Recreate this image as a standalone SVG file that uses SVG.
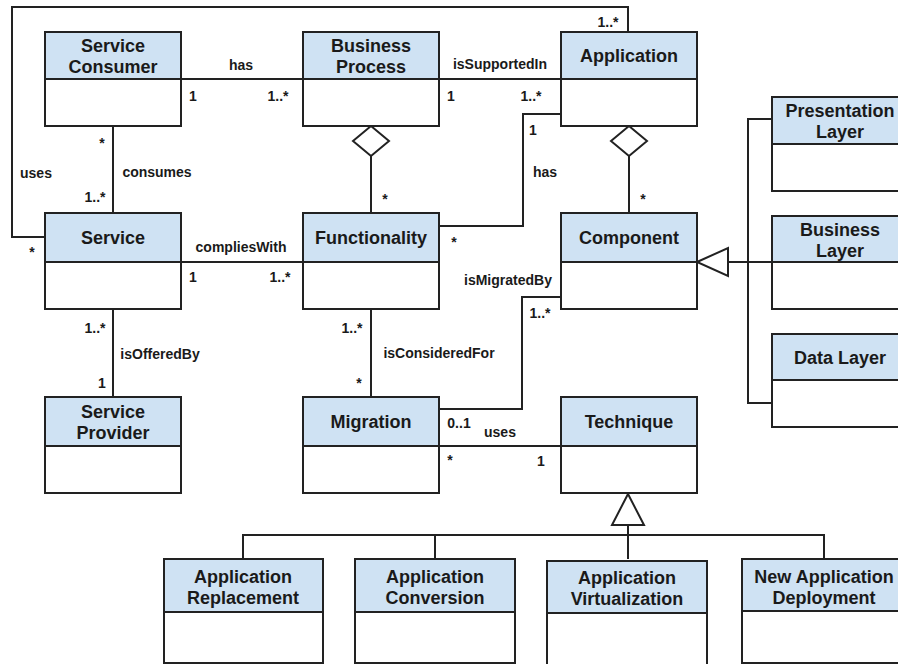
<svg xmlns="http://www.w3.org/2000/svg" width="898" height="664" viewBox="0 0 898 664">
<style>
.hd{fill:#cfe2f3;stroke:#222;stroke-width:2}
.bd{fill:#fff;stroke:#222;stroke-width:2}
.t{font-family:"Liberation Sans",Arial,sans-serif;font-weight:bold;font-size:18px;fill:#1a1a1a;text-anchor:middle}
.l{font-family:"Liberation Sans",Arial,sans-serif;font-weight:bold;font-size:14px;fill:#1a1a1a;text-anchor:middle}
.c{fill:none;stroke:#222;stroke-width:2}
.o{fill:#fff;stroke:#222;stroke-width:2}
</style>
<rect width="898" height="664" fill="#fff"/>
<g id="connectors">
<polyline class="c" points="45,237 12,237 12,7 628,7 628,32"/>
<line class="c" x1="181" y1="79" x2="303" y2="79"/>
<line class="c" x1="439" y1="79" x2="561" y2="79"/>
<line class="c" x1="113" y1="126" x2="113" y2="213"/>
<line class="c" x1="371" y1="156" x2="371" y2="213"/>
<polygon class="o" points="371,126 389,141 371,156 353,141"/>
<line class="c" x1="629" y1="156" x2="629" y2="213"/>
<polygon class="o" points="629,126 647,141 629,156 611,141"/>
<polyline class="c" points="439,226 523,226 523,114 561,114"/>
<line class="c" x1="181" y1="262" x2="303" y2="262"/>
<line class="c" x1="113" y1="309" x2="113" y2="397"/>
<line class="c" x1="371" y1="309" x2="371" y2="397"/>
<polyline class="c" points="561,297 522,297 522,409 439,409"/>
<line class="c" x1="439" y1="446" x2="561" y2="446"/>
<line class="c" x1="728" y1="262" x2="772" y2="262"/>
<polyline class="c" points="772,119 748,119 748,403 772,403"/>
<polygon class="o" points="697,262 728,248 728,276"/>
<line class="c" x1="628" y1="525" x2="628" y2="559"/>
<polyline class="c" points="243,559 243,535 824,535 824,559"/>
<line class="c" x1="435" y1="535" x2="435" y2="559"/>
<polygon class="o" points="628,494 644,525 612,525"/>
<text class="l" x="36" y="178">uses</text>
<text class="l" x="32" y="257">*</text>
<text class="l" x="608" y="27">1..*</text>
<text class="l" x="241" y="70">has</text>
<text class="l" x="193" y="101">1</text>
<text class="l" x="278" y="101">1..*</text>
<text class="l" x="500" y="69">isSupportedIn</text>
<text class="l" x="451" y="101">1</text>
<text class="l" x="531" y="101">1..*</text>
<text class="l" x="102" y="148">*</text>
<text class="l" x="157" y="177">consumes</text>
<text class="l" x="95" y="202">1..*</text>
<text class="l" x="385" y="204">*</text>
<text class="l" x="533" y="135">1</text>
<text class="l" x="545" y="177">has</text>
<text class="l" x="454" y="247">*</text>
<text class="l" x="643" y="204">*</text>
<text class="l" x="241" y="252">compliesWith</text>
<text class="l" x="193" y="282">1</text>
<text class="l" x="280" y="282">1..*</text>
<text class="l" x="95" y="333">1..*</text>
<text class="l" x="160" y="359">isOfferedBy</text>
<text class="l" x="102" y="388">1</text>
<text class="l" x="508" y="285">isMigratedBy</text>
<text class="l" x="540" y="318">1..*</text>
<text class="l" x="352" y="333">1..*</text>
<text class="l" x="439" y="358">isConsideredFor</text>
<text class="l" x="359" y="388">*</text>
<text class="l" x="459" y="428">0..1</text>
<text class="l" x="500" y="437">uses</text>
<text class="l" x="450" y="465">*</text>
<text class="l" x="541" y="466">1</text>
</g>
<g id="service-consumer">
<rect class="bd" x="45" y="79" width="136" height="47"/>
<rect class="hd" x="45" y="32" width="136" height="47"/>
<text class="t" x="113" y="52">Service</text>
<text class="t" x="113" y="73">Consumer</text>
</g>
<g id="business-process">
<rect class="bd" x="303" y="79" width="136" height="47"/>
<rect class="hd" x="303" y="32" width="136" height="47"/>
<text class="t" x="371" y="52">Business</text>
<text class="t" x="371" y="73">Process</text>
</g>
<g id="application">
<rect class="bd" x="561" y="79" width="136" height="47"/>
<rect class="hd" x="561" y="32" width="136" height="47"/>
<text class="t" x="629" y="62">Application</text>
</g>
<g id="service">
<rect class="bd" x="45" y="262" width="136" height="47"/>
<rect class="hd" x="45" y="213" width="136" height="49"/>
<text class="t" x="113" y="244">Service</text>
</g>
<g id="functionality">
<rect class="bd" x="303" y="262" width="136" height="47"/>
<rect class="hd" x="303" y="213" width="136" height="49"/>
<text class="t" x="371" y="244">Functionality</text>
</g>
<g id="component">
<rect class="bd" x="561" y="262" width="136" height="47"/>
<rect class="hd" x="561" y="213" width="136" height="49"/>
<text class="t" x="629" y="244">Component</text>
</g>
<g id="presentation-layer">
<rect class="bd" x="772" y="144" width="136" height="47"/>
<rect class="hd" x="772" y="97" width="136" height="47"/>
<text class="t" x="840" y="117">Presentation</text>
<text class="t" x="840" y="138">Layer</text>
</g>
<g id="business-layer">
<rect class="bd" x="772" y="262" width="136" height="47"/>
<rect class="hd" x="772" y="216" width="136" height="46"/>
<text class="t" x="840" y="236">Business</text>
<text class="t" x="840" y="257">Layer</text>
</g>
<g id="data-layer">
<rect class="bd" x="772" y="380" width="136" height="47"/>
<rect class="hd" x="772" y="334" width="136" height="46"/>
<text class="t" x="840" y="364">Data Layer</text>
</g>
<g id="service-provider">
<rect class="bd" x="45" y="446" width="136" height="47"/>
<rect class="hd" x="45" y="397" width="136" height="49"/>
<text class="t" x="113" y="418">Service</text>
<text class="t" x="113" y="439">Provider</text>
</g>
<g id="migration">
<rect class="bd" x="303" y="446" width="136" height="47"/>
<rect class="hd" x="303" y="397" width="136" height="49"/>
<text class="t" x="371" y="428">Migration</text>
</g>
<g id="technique">
<rect class="bd" x="561" y="446" width="136" height="47"/>
<rect class="hd" x="561" y="397" width="136" height="49"/>
<text class="t" x="629" y="428">Technique</text>
</g>
<g id="application-replacement">
<rect class="bd" x="164" y="612" width="159" height="51"/>
<rect class="hd" x="164" y="559" width="159" height="53"/>
<text class="t" x="243" y="583">Application</text>
<text class="t" x="243" y="604">Replacement</text>
</g>
<g id="application-conversion">
<rect class="bd" x="355" y="612" width="160" height="51"/>
<rect class="hd" x="355" y="559" width="160" height="53"/>
<text class="t" x="435" y="583">Application</text>
<text class="t" x="435" y="604">Conversion</text>
</g>
<g id="application-virtualization">
<rect class="bd" x="547" y="613" width="160" height="52"/>
<rect class="hd" x="547" y="561" width="160" height="52"/>
<text class="t" x="627" y="584">Application</text>
<text class="t" x="627" y="605">Virtualization</text>
</g>
<g id="new-application-deployment">
<rect class="bd" x="742" y="611" width="164" height="52"/>
<rect class="hd" x="742" y="559" width="164" height="52"/>
<text class="t" x="824" y="583">New Application</text>
<text class="t" x="824" y="604">Deployment</text>
</g>
</svg>
